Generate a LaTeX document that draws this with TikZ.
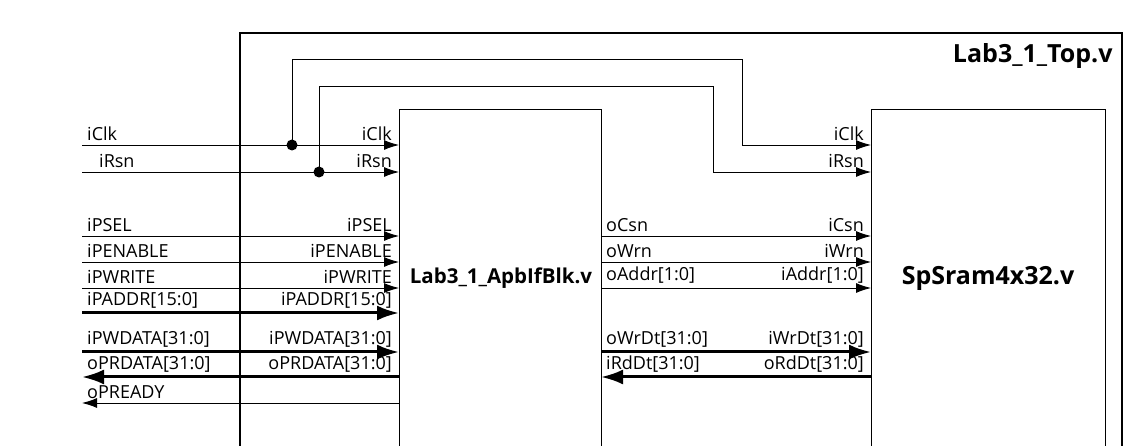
\documentclass[tikz,border=0pt]{standalone}
\usepackage{fontspec}
\setmainfont{Open Sans}
\usetikzlibrary{arrows.meta}
\begin{document}
\begin{tikzpicture}[x=1pt,y=-1pt,
  sig/.style={line width=0.9pt,-{Latex[length=15pt,width=10pt]}},
  bus/.style={line width=3pt,-{Latex[length=22pt,width=15pt]}},
  lab/.style={font=\fontsize{18}{18}\selectfont,inner sep=1pt},
  blk/.style={draw,line width=0.9pt},
  dot/.style={circle,fill,inner sep=0pt,minimum size=11pt}]
\useasboundingbox (0,0) rectangle (1128,446);
\draw[line width=2pt] (240,460) -- (240,33) -- (1122,33) -- (1122,460);
\node[anchor=north east,font=\bfseries\fontsize{25}{25}\selectfont] (top) at (1116,40) {Lab3\_1\_Top.v};
\draw[blk] (399,460) -- (399,109) -- (601,109) -- (601,460);
\draw[blk] (871,460) -- (871,109) -- (1105,109) -- (1105,460);
\node[font=\bfseries\fontsize{20.5}{20.5}\selectfont] (apb) at (501,278) {Lab3\_1\_ApbIfBlk.v};
\node[font=\bfseries\fontsize{25}{25}\selectfont] (sram) at (988,278) {SpSram4x32.v};
\foreach \n/\y in {clk/145,rsn/172,sel/236,en/262,wr/288,addr/313,wd/352,rd/377,rdy/403}{
  \coordinate (L\n) at (82,\y); \coordinate (A\n) at (399,\y);}
\foreach \n/\y in {csn/236,wrn/262,ad/288,wd/352,rd/377,clk/145,rsn/172}{
  \coordinate (B\n) at (601,\y); \coordinate (S\n) at (871,\y);}
\coordinate (d1) at (292,145); \coordinate (d2) at (319,172);
\draw[sig] (Lclk) -- (Aclk);
\draw[sig] (Lrsn) -- (Arsn);
\node[dot] at (d1) {}; \node[dot] at (d2) {};
\draw[sig] (d1) |- (742,59) |- (Sclk);
\draw[sig] (d2) |- (713,86) |- (Srsn);
\draw[sig] (Lsel) -- (Asel);
\draw[sig] (Len) -- (Aen);
\draw[sig] (Lwr) -- (Awr);
\draw[bus] (Laddr) -- (Aaddr);
\draw[bus] (Lwd) -- (Awd);
\draw[bus] (Ard) -- (Lrd);
\draw[sig] (Ardy) -- (Lrdy);
\draw[sig] (Bcsn) -- (Scsn);
\draw[sig] (Bwrn) -- (Swrn);
\draw[sig] (Bad) -- (Sad);
\draw[bus] (Bwd) -- (Swd);
\draw[bus] (Srd) -- (Brd);
\foreach \t/\y in {iClk/145,iPSEL/236,iPENABLE/262,iPWRITE/288,iPADDR[15:0]/313,iPWDATA[31:0]/352,oPRDATA[31:0]/377,oPREADY/403}
  \node[lab,anchor=south west] at (86,\y-3) {\t};
\node[lab,anchor=south west] at (98,169) {iRsn};
\foreach \t/\y in {iClk/145,iRsn/172,iPSEL/236,iPENABLE/262,iPWRITE/288,iPADDR[15:0]/313,iPWDATA[31:0]/352,oPRDATA[31:0]/377}
  \node[lab,anchor=south east] at (393,\y-3) {\t};
\foreach \t/\y in {oCsn/236,oWrn/262,oAddr[1:0]/288,oWrDt[31:0]/352,iRdDt[31:0]/377}
  \node[lab,anchor=south west] at (605,\y-3) {\t};
\foreach \t/\y in {iClk/145,iRsn/172,iCsn/236,iWrn/262,iAddr[1:0]/288,iWrDt[31:0]/352,oRdDt[31:0]/377}
  \node[lab,anchor=south east] at (865,\y-3) {\t};
\end{tikzpicture}
\end{document}
